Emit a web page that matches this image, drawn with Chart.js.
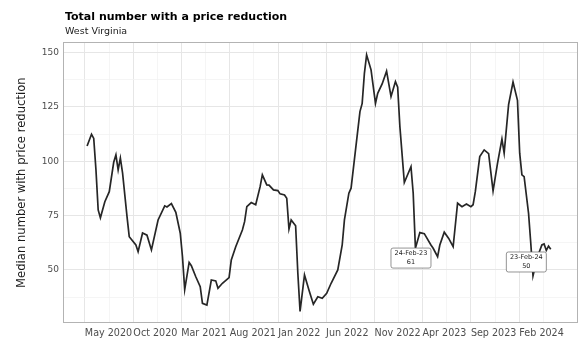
<!DOCTYPE html>
<html><head><meta charset="utf-8">
<script src="https://cdn.jsdelivr.net/npm/chart.js@4/dist/chart.umd.min.js"></script>
<style>html,body{margin:0;padding:0;background:#fff}#wrap{width:584px;height:342px;position:relative}</style>
</head><body><div id="wrap"><canvas id="c" width="584" height="342"></canvas></div>
<script>
const chartTitle = 'Total number with a price reduction';
const chartSubtitle = 'West Virginia';
const yAxisTitle = 'Median number with price reduction';
const firstWeek = '2020-05-08';
const weekIndex = [0,2,3,4,5,6,8,10,12,13,14,15,16,18,19,22,23,25,27,29,32,35,36,38,40,42,43,44,46,47,49,51,52,54,56,58,59,61,64,65,67,70,71,72,74,76,78,79,81,82,84,86,87,89,90,91,92,94,95,96,98,100,102,104,106,108,110,113,115,116,118,119,121,123,124,125,126,128,130,131,133,135,137,139,140,141,143,146,147,148,150,152,155,156,158,159,161,163,165,167,169,171,173,174,175,177,179,181,183,185,187,188,190,192,194,195,196,197,199,200,201,203,205,206,207,208,209];
const values = [107.0,112.4,110.5,96.0,77.6,74.0,81.4,86.0,99.5,102.9,96.0,101.4,94.5,74.5,65.3,61.5,58.4,67.0,66.0,59.2,73.0,79.5,79.0,80.5,76.5,66.9,56.1,41.0,53.5,52.0,46.9,42.3,34.7,33.9,45.4,45.0,41.6,43.9,46.5,54.6,60.7,68.4,72.2,79.1,81.0,80.0,88.3,93.7,89.1,89.0,86.8,86.5,85.0,84.5,83.0,68.8,73.0,70.3,48.5,31.0,47.7,40.8,34.3,37.7,37.0,39.3,43.9,50.0,61.5,73.0,85.3,87.6,105.2,122.8,126.6,140.4,148.9,142.0,126.6,131.2,135.5,141.4,129.7,136.6,134.0,115.9,90.2,97.5,85.3,60.0,67.2,66.7,61.5,60.0,56.1,61.5,67.4,64.5,60.7,80.7,79.1,80.3,79.1,80.0,86.0,102.1,105.2,103.5,86.4,99.0,110.2,103.7,126.0,136.4,128.0,103.7,93.7,92.9,76.0,62.3,47.3,56.0,61.5,62.0,59.0,61.0,59.5];
const xTickLabels = ['May 2020','Oct 2020','Mar 2021','Aug 2021','Jan 2022','Jun 2022','Nov 2022','Apr 2023','Sep 2023','Feb 2024'];
const yTickValues = [50,75,100,125,150];
const annDates = ['2023-02-24','2024-02-23'];
const annValues = [61, 50];

const FONT = "'DejaVu Sans', sans-serif";
const DAY = 86400000;
const MON = {Jan:0,Feb:1,Mar:2,Apr:3,May:4,Jun:5,Jul:6,Aug:7,Sep:8,Oct:9,Nov:10,Dec:11};
const toDay = s => Date.parse(s + 'T00:00:00Z') / DAY;
const breakDays = xTickLabels.map(l => { const p = l.split(' '); return Date.UTC(+p[1], MON[p[0]], 1) / DAY; });
const startDay = toDay(firstWeek);
const points = weekIndex.map((w, i) => ({x: startDay + 7 * w, y: values[i]}));
const xMin = breakDays[0] - 69, xMax = breakDays[0] + 1556;
const yMin = 25.5, yMax = 154.8;

const xMinor = [];
for (let i = 0; i < breakDays.length - 1; i++) xMinor.push((breakDays[i] + breakDays[i+1]) / 2);
const stepX = (breakDays[breakDays.length-1] - breakDays[0]) / (breakDays.length - 1);
xMinor.push(breakDays[0] - stepX/2, breakDays[breakDays.length-1] + stepX/2);
const xTicksAll = breakDays.concat(xMinor).filter(v => v >= xMin && v <= xMax).sort((a,b)=>a-b);
const yStep = yTickValues[1] - yTickValues[0];
const yTicksAll = [];
for (let v = yTickValues[0] - yStep/2; v <= yMax; v += yStep/2) if (v >= yMin) yTicksAll.push(v);

const MAJOR = '#e6e6e6', MINOR = '#f3f3f3';
const isMajorX = v => breakDays.some(b => Math.abs(b - v) < 0.01);
const isMajorY = v => yTickValues.some(b => Math.abs(b - v) < 0.01);

const overlay = {
  id: 'overlay',
  afterDraw(chart) {
    const {ctx, chartArea: a, scales} = chart;
    ctx.save();
    ctx.strokeStyle = '#b3b3b3'; ctx.lineWidth = 1;
    ctx.strokeRect(Math.round(a.left) + 0.5, Math.round(a.top) + 0.5, Math.round(a.right - a.left) - 1, Math.round(a.bottom - a.top) - 1);
    ctx.fillStyle = '#000'; ctx.textAlign = 'left'; ctx.textBaseline = 'alphabetic';
    ctx.font = `bold 11px ${FONT}`;
    ctx.fillText(chartTitle, a.left + 2, 20);
    ctx.font = `9.5px ${FONT}`;
    ctx.fillStyle = '#1a1a1a';
    ctx.fillText(chartSubtitle, a.left + 2, 34);
    const nudges = [12, -8];
    annDates.forEach((d, i) => {
      const cx = scales.x.getPixelForValue(toDay(d));
      const cy = scales.y.getPixelForValue(annValues[i]) + nudges[i];
      const w = 40, h = 20;
      const x0 = cx - w/2, y0 = cy - h/2;
      ctx.beginPath();
      if (ctx.roundRect) ctx.roundRect(x0, y0, w, h, 2); else ctx.rect(x0, y0, w, h);
      ctx.fillStyle = '#fff'; ctx.fill();
      ctx.strokeStyle = '#666'; ctx.lineWidth = 0.7; ctx.stroke();
      ctx.fillStyle = '#222'; ctx.textAlign = 'center'; ctx.textBaseline = 'middle';
      ctx.font = `6.5px ${FONT}`;
      const dt = new Date(toDay(d) * DAY);
      const mn = Object.keys(MON)[dt.getUTCMonth()];
      const txt = String(dt.getUTCDate()).padStart(2,'0') + '-' + mn + '-' + String(dt.getUTCFullYear()).slice(2);
      ctx.fillText(txt, cx, cy - 4.5);
      ctx.fillText(String(annValues[i]), cx, cy + 4.5);
    });
    ctx.restore();
  }
};

new Chart(document.getElementById('c'), {
  type: 'line',
  data: { datasets: [{ data: points, borderColor: '#262626', borderWidth: 1.7, pointRadius: 0, tension: 0, fill: false }] },
  options: {
    responsive: false, animation: false, devicePixelRatio: 1,
    layout: { padding: { top: 42, right: 6, bottom: 0, left: 0 } },
    plugins: { legend: { display: false }, tooltip: { enabled: false }, title: { display: false } },
    scales: {
      x: {
        type: 'linear', min: xMin, max: xMax, bounds: 'data',
        afterBuildTicks: s => { s.ticks = xTicksAll.map(v => ({value: v})); },
        afterFit: s => { s.height = 18.7; },
        grid: { color: c => isMajorX(c.tick.value) ? MAJOR : MINOR, lineWidth: c => isMajorX(c.tick.value) ? 1 : 0.8, drawTicks: false },
        border: { display: false },
        ticks: { autoSkip: false, maxRotation: 0, minRotation: 0, align: 'start', padding: 4, color: '#4d4d4d', font: { family: FONT, size: 9.6 },
          callback: v => { const i = breakDays.findIndex(b => Math.abs(b - v) < 0.01); return i >= 0 ? xTickLabels[i] : ''; } }
      },
      y: {
        type: 'linear', min: yMin, max: yMax, bounds: 'data',
        afterBuildTicks: s => { s.ticks = yTicksAll.map(v => ({value: v})); },
        afterFit: s => { s.width = 63; },
        grid: { color: c => isMajorY(c.tick.value) ? MAJOR : MINOR, lineWidth: c => isMajorY(c.tick.value) ? 1 : 0.8, drawTicks: false },
        border: { display: false },
        title: { display: true, text: yAxisTitle, color: '#1a1a1a', font: { family: FONT, size: 11.6 }, padding: { top: 15, bottom: 0 } },
        ticks: { autoSkip: false, padding: 4, color: '#4d4d4d', font: { family: FONT, size: 9 },
          callback: v => isMajorY(v) ? String(v) : '' }
      }
    }
  },
  plugins: [overlay]
});
</script>
</body></html>
